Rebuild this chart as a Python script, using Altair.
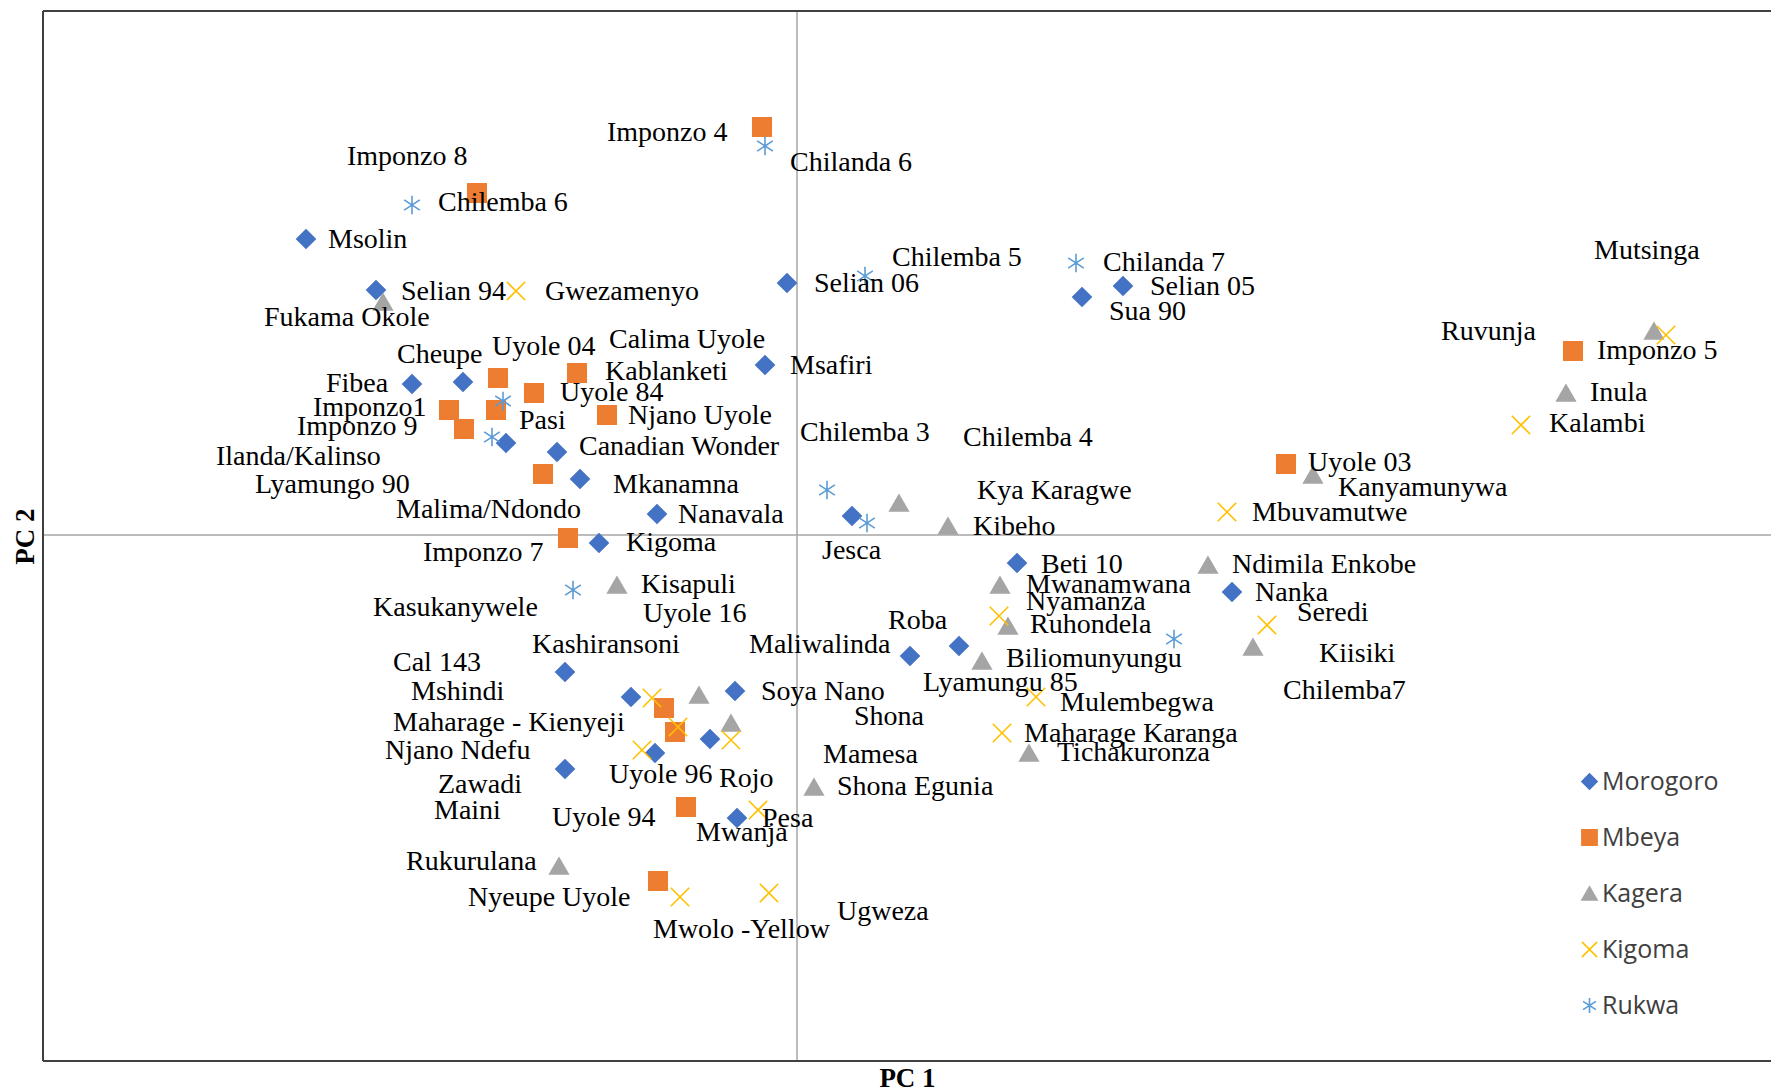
import altair as alt
import pandas as pd

# ---- point data (PC1, PC2) by region ----
regions = ["Morogoro", "Mbeya", "Kagera", "Kigoma", "Rukwa"]

moro_pc1 = [-4.91, -4.21, -3.85, -3.34, -0.10, -0.32, 2.85, 3.26, -2.91, -2.40, -2.17, -1.40, -1.98,
            0.55, 2.20, 4.35, 1.62, 1.13, -2.32, -1.66, -0.62, -0.87, -1.42, -2.32, -0.60]
moro_pc2 = [2.96, 2.45, 1.51, 1.53, 2.52, 1.70, 2.38, 2.49, 0.92, 0.83, 0.56, 0.21, -0.08,
            0.19, -0.28, -0.57, -1.11, -1.21, -1.37, -1.62, -1.56, -2.04, -2.18, -2.34, -2.83]

mbeya_pc1 = [-3.20, -0.35, -2.99, -2.20, -2.63, -3.48, -3.01, -3.33, -1.90, -2.54, -2.29,
             -1.33, -1.22, -1.11, -1.39, 7.76, 4.89]
mbeya_pc2 = [3.42, 4.08, 1.57, 1.62, 1.42, 1.25, 1.25, 1.06, 1.20, 0.61, -0.03,
             -1.73, -1.97, -2.72, -3.46, 1.84, 0.71]

kagera_pc1 = [-4.14, -1.80, -0.98, -0.66, 0.17, -2.38, 1.02, 1.51, 2.03, 2.11, 1.85, 2.32,
              4.11, 4.56, 5.16, 7.69, 8.57]
kagera_pc2 = [2.33, -0.50, -1.60, -1.88, -2.52, -3.31, 0.32, 0.09, -0.50, -0.91, -1.26, -2.18,
              -0.30, -1.12, 0.60, 1.42, 2.04]

kigoma_pc1 = [-2.81, -1.45, -1.19, -0.66, -1.55, -0.39, -1.17, -0.28, 4.30, 2.02, 2.39, 2.05,
              4.70, 7.24, 8.69]
kigoma_pc2 = [2.44, -1.63, -1.92, -2.05, -2.15, -2.75, -3.62, -3.58, 0.23, -0.81, -1.62, -1.98,
              -0.90, 1.10, 2.00]

rukwa_pc1 = [-3.85, -0.32, 0.68, 2.79, -2.94, -3.05, -2.24, 0.30, 0.70, 3.77]
rukwa_pc2 = [3.30, 3.89, 2.59, 2.72, 1.34, 0.98, -0.55, 0.45, 0.12, -1.04]

# ---- data labels (placed independently, as in the original) ----
label_text = ["Imponzo  8", "Chilemba  6", "Msolin", "Selian  94", "Fukama  Okole", "Cheupe",
              "Fibea", "Imponzo1", "Imponzo  9", "Ilanda/Kalinso", "Lyamungo 90", "Malima/Ndondo",
              "Imponzo  7", "Kasukanywele", "Cal  143", "Mshindi", "Maharage - Kienyeji",
              "Njano Ndefu", "Zawadi", "Maini", "Rukurulana", "Nyeupe Uyole", "Imponzo  4",
              "Chilanda 6", "Gwezamenyo", "Selian  06", "Chilemba  5", "Uyole 04", "Calima  Uyole",
              "Kablanketi", "Msafiri", "Uyole 84", "Pasi", "Njano Uyole", "Canadian Wonder",
              "Chilemba  3", "Mkanamna", "Nanavala", "Kigoma", "Jesca", "Kisapuli", "Uyole 16",
              "Kashiransoni", "Maliwalinda", "Roba", "Soya Nano", "Shona", "Mamesa",
              "Shona Egunia", "Uyole 96", "Rojo", "Uyole 94", "Pesa", "Mwanja", "Ugweza",
              "Mwolo -Yellow", "Chilanda 7", "Selian  05", "Sua 90", "Chilemba  4", "Uyole 03",
              "Kanyamunywa", "Kya Karagwe", "Mbuvamutwe", "Kibeho", "Beti  10", "Mwanamwana",
              "Nyamanza", "Ruhondela", "Biliomunyungu", "Lyamungu 85", "Mulembegwa",
              "Maharage Karanga", "Tichakuronza", "Ndimila  Enkobe", "Nanka", "Seredi", "Kiisiki",
              "Chilemba7", "Mutsinga", "Ruvunja", "Imponzo  5", "Inula", "Kalambi"]
label_pc1 = [-4.50, -3.59, -4.69, -3.96, -5.33, -4.00,
             -4.71, -4.84, -5.00, -5.81, -5.42, -4.01,
             -3.74, -4.24, -4.04, -3.86, -4.04,
             -4.12, -3.59, -3.63, -3.91, -3.29, -1.90,
             -0.07, -2.52, 0.17, 0.95, -3.05, -1.88,
             -1.92, -0.07, -2.37, -2.78, -1.69, -2.18,
             0.03, -1.84, -1.19, -1.71, 0.25, -1.56, -1.54,
             -2.65, -0.48, 0.91, -0.36, 0.57, 0.26,
             0.40, -1.88, -0.78, -2.45, -0.35, -1.01, 0.40,
             -1.44, 3.06, 3.53, 3.12, 1.66, 5.11,
             5.41, 1.80, 4.55, 1.76, 2.44, 2.29,
             2.29, 2.33, 2.09, 1.26, 2.63,
             2.27, 2.60, 4.35, 4.58, 5.00, 5.22,
             4.86, 7.97, 6.44, 8.00, 7.93, 7.52]
label_pc2 = [3.78, 3.32, 2.95, 2.43, 2.17, 1.80,
             1.51, 1.27, 1.08, 0.78, 0.50, 0.25,
             -0.18, -0.73, -1.28, -1.57, -1.88,
             -2.16, -2.50, -2.76, -3.27, -3.63, 4.02,
             3.72, 2.43, 2.51, 2.77, 1.88, 1.95,
             1.63, 1.69, 1.42, 1.14, 1.19, 0.88,
             1.02, 0.50, 0.20, -0.08, -0.16, -0.50, -0.79,
             -1.10, -1.10, -0.86, -1.57, -1.82, -2.20,
             -2.52, -2.40, -2.44, -2.83, -2.84, -2.98, -3.77,
             -3.95, 2.72, 2.48, 2.23, 0.97, 0.72,
             0.47, 0.44, 0.22, 0.08, -0.30, -0.50,
             -0.67, -0.90, -1.24, -1.48, -1.68,
             -1.99, -2.18, -0.30, -0.58, -0.78, -1.19,
             -1.56, 2.84, 2.03, 1.84, 1.42, 1.11]

# axis ranges of the plot frame
x_min, x_max = -7.54, 9.74
y_min, y_max = -5.26, 5.24

# ---- styling ----
stroke_colors = ["#4472C4", "#ED7D31", "#A5A5A5", "#FFC000", "#5B9BD5"]
fill_colors = ["#4472C4", "#ED7D31", "#A5A5A5", "transparent", "transparent"]
x_path = "M-1,-1L1,1M-1,1L1,-1"
star_path = "M0,-1L0,1M-0.85,-0.55L0.85,0.55M-0.85,0.55L0.85,-0.55"
shapes = ["diamond", "square", "triangle-up", x_path, star_path]

rows = []
for reg, xs, ys in [("Morogoro", moro_pc1, moro_pc2), ("Mbeya", mbeya_pc1, mbeya_pc2),
                    ("Kagera", kagera_pc1, kagera_pc2), ("Kigoma", kigoma_pc1, kigoma_pc2),
                    ("Rukwa", rukwa_pc1, rukwa_pc2)]:
    for a, b in zip(xs, ys):
        rows.append({"region": reg, "pc1": a, "pc2": b})
points = pd.DataFrame(rows)
labels = pd.DataFrame({"text": label_text, "pc1": label_pc1, "pc2": label_pc2})

xscale = alt.Scale(domain=[x_min, x_max], nice=False, zero=False)
yscale = alt.Scale(domain=[y_min, y_max], nice=False, zero=False)

legend = alt.Legend(orient="none", legendX=1534, legendY=758, title=None,
                    labelFont="Open Sans", labelFontSize=25, labelColor="#404040",
                    symbolSize=230, symbolStrokeWidth=1.6, rowPadding=30, labelOffset=0,
                    padding=0)

x_axis = alt.Axis(title="PC 1", domain=False, ticks=False, labels=False, grid=False,
                  titleFont="Liberation Serif", titleFontSize=27, titleFontWeight="bold",
                  titleColor="black", titleY=25, titleBaseline="alphabetic")
y_axis = alt.Axis(title="PC 2", domain=False, ticks=False, labels=False, grid=False,
                  titleFont="Liberation Serif", titleFontSize=27, titleFontWeight="bold",
                  titleColor="black", titleX=-10, titleY=525, titleAngle=270,
                  titleBaseline="alphabetic", titleAlign="center")

zero_df = pd.DataFrame({"v": [0.0]})
vline = alt.Chart(zero_df).mark_rule(color="#A6A6A6", strokeWidth=1.5).encode(
    x=alt.X("v:Q", scale=xscale, axis=x_axis))
hline = alt.Chart(zero_df).mark_rule(color="#A6A6A6", strokeWidth=1.5).encode(
    y=alt.Y("v:Q", scale=yscale, axis=y_axis))

# plot frame (left, top, bottom; the right edge lies beyond the picture)
frame_left = alt.Chart(zero_df).mark_rule(color="#404040", strokeWidth=2).encode(
    x=alt.datum(x_min, scale=xscale))
frame_top = alt.Chart(zero_df).mark_rule(color="#404040", strokeWidth=2).encode(
    y=alt.datum(y_max, scale=yscale))
frame_bottom = alt.Chart(zero_df).mark_rule(color="#404040", strokeWidth=2).encode(
    y=alt.datum(y_min, scale=yscale))

pts = alt.Chart(points).mark_point(filled=False, size=340, strokeWidth=1.6, opacity=1).encode(
    x=alt.X("pc1:Q", scale=xscale, axis=x_axis),
    y=alt.Y("pc2:Q", scale=yscale, axis=y_axis),
    color=alt.Color("region:N", scale=alt.Scale(domain=regions, range=stroke_colors), legend=legend),
    fill=alt.Fill("region:N", scale=alt.Scale(domain=regions, range=fill_colors), legend=legend),
    shape=alt.Shape("region:N", scale=alt.Scale(domain=regions, range=shapes), legend=legend),
)

txt = alt.Chart(labels).mark_text(align="left", baseline="middle", font="Liberation Serif",
                                  fontSize=28, color="black").encode(
    x=alt.X("pc1:Q", scale=xscale, axis=x_axis),
    y=alt.Y("pc2:Q", scale=yscale, axis=y_axis),
    text="text:N",
)

chart = alt.layer(vline, hline, frame_left, frame_top, frame_bottom, pts, txt).properties(
    width=1728, height=1050,
    autosize=alt.AutoSizeParams(type="none"),
    padding={"left": 35, "top": 3, "right": 0, "bottom": 30},
).configure_view(strokeWidth=0)

chart.save("out.html", embed_options={"renderer": "svg", "actions": False})
